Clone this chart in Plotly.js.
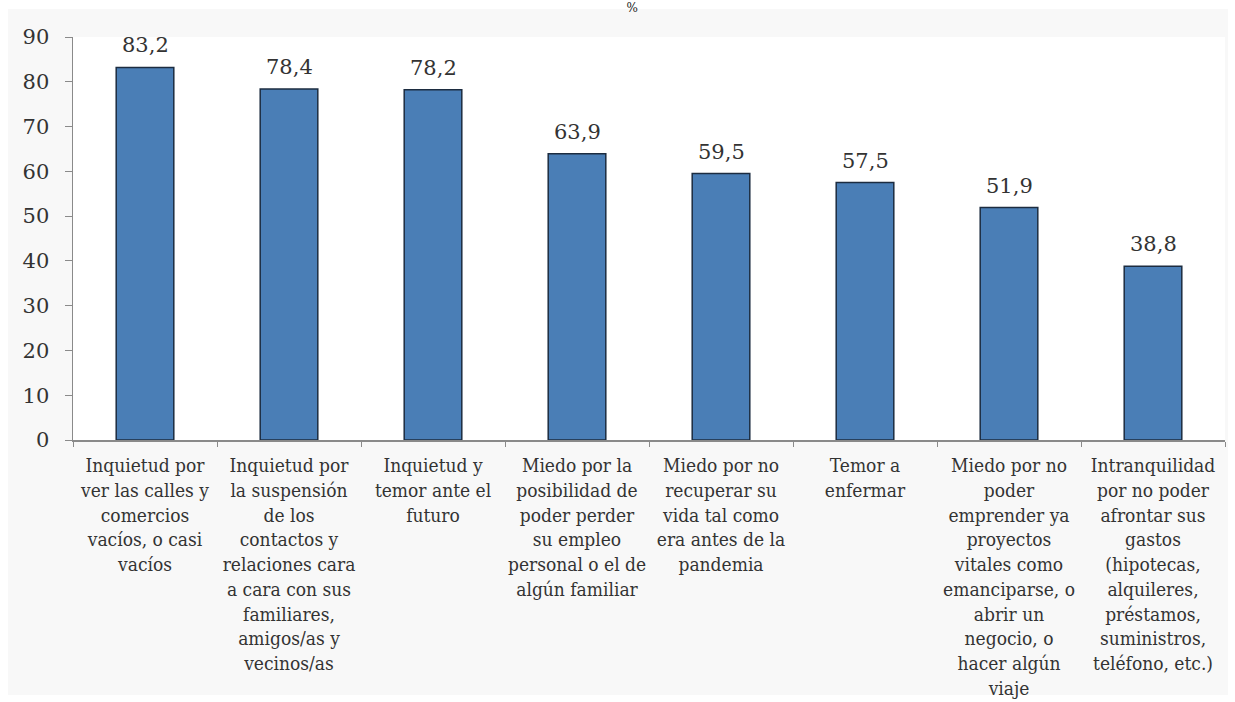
<!DOCTYPE html>
<html>
<head>
<meta charset="utf-8">
<script src="https://cdn.plot.ly/plotly-3.0.1.min.js"></script>
<style>
html,body{margin:0;padding:0;background:#ffffff;}
#chart{width:1235px;height:702px;}
</style>
</head>
<body>
<div id="chart"></div>
<script>
const categories = [
  "Inquietud por<br>ver las calles y<br>comercios<br>vacíos, o casi<br>vacíos",
  "Inquietud por<br>la suspensión<br>de los<br>contactos y<br>relaciones cara<br>a cara con sus<br>familiares,<br>amigos/as y<br>vecinos/as",
  "Inquietud y<br>temor ante el<br>futuro",
  "Miedo por la<br>posibilidad de<br>poder perder<br>su empleo<br>personal o el de<br>algún familiar",
  "Miedo por no<br>recuperar su<br>vida tal como<br>era antes de la<br>pandemia",
  "Temor a<br>enfermar",
  "Miedo por no<br>poder<br>emprender ya<br>proyectos<br>vitales como<br>emanciparse, o<br>abrir un<br>negocio, o<br>hacer algún<br>viaje",
  "Intranquilidad<br>por no poder<br>afrontar sus<br>gastos<br>(hipotecas,<br>alquileres,<br>préstamos,<br>suministros,<br>teléfono, etc.)"
];
const values = [83.2, 78.4, 78.2, 63.9, 59.5, 57.5, 51.9, 38.8];
const yTicks = [0, 10, 20, 30, 40, 50, 60, 70, 80, 90];
const titleText = "%";

const serif = "DejaVu Serif, Liberation Serif, serif";
const condSerif = "DejaVu Serif Condensed, DejaVu Serif, serif";
const textColor = "#333333";

const trace = {
  type: "bar",
  x: categories,
  y: values,
  marker: {color: "#4a7eb6", line: {color: "#1c2c40", width: 1.5}},
  hoverinfo: "x+y"
};

const annotations = categories.map((c, i) => ({
  x: c, y: values[i], xref: "x", yref: "y",
  text: values[i].toFixed(1).replace(".", ","),
  showarrow: false, yanchor: "bottom", yshift: 8,
  font: {family: serif, size: 21, color: textColor}
}));

const layout = {
  width: 1235, height: 702,
  margin: {l: 73, r: 10, t: 37, b: 262},
  paper_bgcolor: "#ffffff",
  plot_bgcolor: "#ffffff",
  separators: ",.",
  bargap: 0.6,
  showlegend: false,
  title: {text: titleText, x: 0.512, xref: "container", y: 0.995, yref: "container", yanchor: "top",
          font: {family: serif, size: 12, color: "#222222"}},
  xaxis: {
    type: "category",
    showline: true, linecolor: "#8a8a8a", linewidth: 1.5,
    ticks: "outside", tickson: "boundaries", ticklen: 5, tickcolor: "#8a8a8a",
    ticklabelstandoff: 8,
    tickfont: {family: condSerif, size: 19, color: textColor},
    tickangle: 0, automargin: false
  },
  yaxis: {
    range: [0, 90], tickvals: yTicks, showgrid: false, zeroline: false,
    showline: true, linecolor: "#8a8a8a", linewidth: 1.5,
    ticks: "outside", ticklen: 7, tickcolor: "#8a8a8a",
    ticklabelstandoff: 11,
    tickfont: {family: serif, size: 21, color: textColor},
    automargin: false
  },
  shapes: [
    {type: "rect", xref: "paper", yref: "paper", x0: -0.0564, x1: 1.0026, y0: -0.6328, y1: 1.0695,
     fillcolor: "#f8f8f8", line: {width: 0}, layer: "below"},
    {type: "rect", xref: "paper", yref: "paper", x0: 0, x1: 1, y0: 0, y1: 1,
     fillcolor: "#ffffff", line: {width: 0}, layer: "below"}
  ],
  annotations: annotations
};

Plotly.newPlot("chart", [trace], layout, {displayModeBar: false, staticPlot: true});
</script>
</body>
</html>
